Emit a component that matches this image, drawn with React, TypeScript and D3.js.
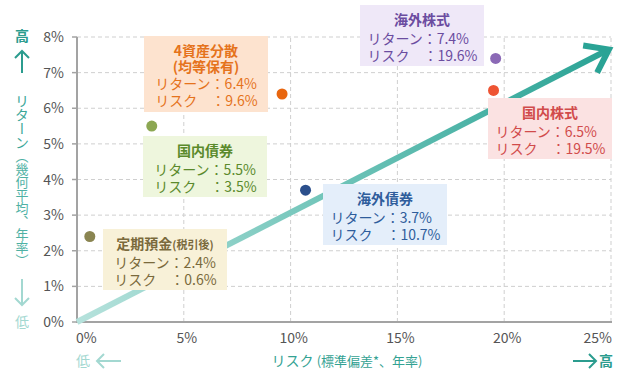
import React from 'react';
import * as d3 from 'd3';

// ---- data ----
const names = ['定期預金', '国内債券', '4資産分散', '海外債券', '国内株式', '海外株式'];
const titleSuffix = ['(税引後)', '', '', '', '', ''];
const titleLine2 = ['', '', '(均等保有)', '', '', ''];
const risks = [0.6, 3.5, 9.6, 10.7, 19.5, 19.6];
const returns = [2.4, 5.5, 6.4, 3.7, 6.5, 7.4];
const xTicks = [0, 5, 10, 15, 20, 25];
const yTicks = [0, 1, 2, 3, 4, 5, 6, 7, 8];
const trendFrom = [0, 0];
const trendTo = [24.9, 7.65];

// ---- styles / layout ----
const dotColors = ['#8a8551', '#8ca752', '#e8660f', '#2b4f8c', '#ee5433', '#8b69b6'];
const boxFills = ['#f8f1d8', '#eef6dd', '#fde3cf', '#e4eefa', '#fbe2e2', '#efe8f8'];
const textColors = ['#7a6a3c', '#5b8a2c', '#e5731c', '#2f5d9c', '#d14b4b', '#6b4ca0'];
const boxLeft = [103, 143, 144, 323, 488, 360];
const boxTop = [229, 136, 36, 184, 98, 5];
const BOX_W = 124;

const W = 633;
const H = 377;
const FONT = '"Noto Sans CJK JP", "Noto Sans", sans-serif';

function estWidth(s: string, fs: number) {
  let w = 0;
  for (const c of s) {
    if (c === '.') w += 0.27 * fs;
    else if (c === '%') w += 0.85 * fs;
    else if (/[0-9]/.test(c)) w += 0.56 * fs;
    else w += fs;
  }
  return w;
}

export default function App() {
  const x = d3.scaleLinear().domain([0, 25]).range([77, 611]);
  const y = d3.scaleLinear().domain([0, 8]).range([322, 37]);

  const x0 = x(trendFrom[0]), y0 = y(trendFrom[1]);
  const x1 = x(trendTo[0]), y1 = y(trendTo[1]);
  const ang = Math.atan2(y1 - y0, x1 - x0);
  const back = ang + Math.PI;
  const armLen = 26;
  const spread = (36 * Math.PI) / 180;
  const a1 = [x1 + armLen * Math.cos(back - spread), y1 + armLen * Math.sin(back - spread)];
  const a2 = [x1 + armLen * Math.cos(back + spread), y1 + armLen * Math.sin(back + spread)];
  const lineEnd = [x1 - 4 * Math.cos(ang), y1 - 4 * Math.sin(ang)];

  const lineGen = d3.line();

  return (
    <svg width={W} height={H} style={{ position: 'absolute', left: 0, top: 0, background: '#fff' }} fontFamily={FONT}>
      <defs>
        <linearGradient id="trendGrad" gradientUnits="userSpaceOnUse" x1={x0} y1={y0} x2={x1} y2={y1}>
          <stop offset="0" stopColor="#b6e2dc" />
          <stop offset="0.45" stopColor="#74c6bb" />
          <stop offset="1" stopColor="#2aa395" />
        </linearGradient>
        <linearGradient id="vGrad" gradientUnits="userSpaceOnUse" x1={0} y1={90} x2={0} y2={280}>
          <stop offset="0" stopColor="#36a395" />
          <stop offset="1" stopColor="#7ccabf" />
        </linearGradient>
      </defs>

      {/* grid */}
      {yTicks.filter((t) => t > 0).map((t) => (
        <line key={'gy' + t} x1={x(0)} x2={x(25)} y1={y(t)} y2={y(t)} stroke="#cfcfcf" strokeWidth={1} strokeDasharray="4 3" />
      ))}
      {xTicks.filter((t) => t > 0).map((t) => (
        <line key={'gx' + t} x1={x(t)} x2={x(t)} y1={y(0)} y2={y(8)} stroke="#cfcfcf" strokeWidth={1} strokeDasharray="4 3" />
      ))}

      {/* axes */}
      <line x1={x(0)} x2={x(0)} y1={y(0)} y2={y(8)} stroke="#a3a3a3" strokeWidth={2} />
      <line x1={x(0) - 1} x2={x(25) + 1} y1={y(0)} y2={y(0)} stroke="#a3a3a3" strokeWidth={2} />
      {yTicks.map((t) => (
        <line key={'ty' + t} x1={x(0) - 5} x2={x(0)} y1={y(t)} y2={y(t)} stroke="#a3a3a3" strokeWidth={1.5} />
      ))}

      {/* tick labels */}
      {yTicks.map((t) => (
        <text key={'ly' + t} x={64} y={y(t) + 5} textAnchor="end" fontSize={14} fill="#555">
          {t + '%'}
        </text>
      ))}
      {xTicks.map((t, i) => (
        <text
          key={'lx' + t}
          x={i === 0 ? x(t) - 1 : i === xTicks.length - 1 ? x(t) + 1 : x(t) + 3}
          y={343}
          textAnchor={i === 0 ? 'start' : i === xTicks.length - 1 ? 'end' : 'middle'}
          fontSize={14}
          fill="#555"
        >
          {t + '%'}
        </text>
      ))}

      {/* trend arrow */}
      <path d={lineGen([[x0, y0], lineEnd as [number, number]]) || ''} stroke="url(#trendGrad)" strokeWidth={6} fill="none" />
      <path
        d={lineGen([a1 as [number, number], [x1, y1], a2 as [number, number]]) || ''}
        stroke="#2aa395"
        strokeWidth={6}
        fill="none"
        strokeLinejoin="miter"
      />

      {/* boxes */}
      {names.map((n, i) => {
        const left = boxLeft[i];
        const top = boxTop[i];
        const hasL2 = titleLine2[i] !== '';
        const h = hasL2 ? 76 : 61;
        const cx = left + BOX_W / 2;
        const rLine = 'リターン：' + returns[i] + '%';
        const kLine = 'リスク\u3000：' + risks[i] + '%';
        const bw = Math.max(estWidth(rLine, 14), estWidth(kLine, 14));
        const sx = left + (BOX_W - bw) / 2;
        const base = top + (hasL2 ? 53 : 38.5);
        return (
          <g key={'box' + i}>
            <rect x={left} y={top} width={BOX_W} height={h} fill={boxFills[i]} />
            <text x={cx} y={top + 20} textAnchor="middle" fontSize={14} fontWeight="bold" fill={textColors[i]}>
              {n}
              {titleSuffix[i] && <tspan fontSize={11}>{titleSuffix[i]}</tspan>}
            </text>
            {hasL2 && (
              <text x={cx} y={top + 36} textAnchor="middle" fontSize={14} fontWeight="bold" fill={textColors[i]}>
                {titleLine2[i]}
              </text>
            )}
            <text x={sx} y={base} fontSize={14} fill={textColors[i]}>
              {rLine}
            </text>
            <text x={sx} y={base + 17} fontSize={14} fill={textColors[i]}>
              {kLine}
            </text>
          </g>
        );
      })}

      {/* dots */}
      {names.map((n, i) => (
        <circle key={'d' + i} cx={x(risks[i])} cy={y(returns[i])} r={5.5} fill={dotColors[i]} />
      ))}

      {/* left axis title */}
      <text x={22} y={41} textAnchor="middle" fontSize={14} fontWeight="bold" fill="#2b9c8e">高</text>
      <line x1={22} x2={22} y1={51} y2={73} stroke="#2b9c8e" strokeWidth={2} />
      <path d="M15,58 L22,51 L29,58" stroke="#2b9c8e" strokeWidth={2} fill="none" />
      <text x={22} y={94} fontSize={14} fill="url(#vGrad)" style={{ writingMode: 'vertical-rl' } as any}>
        リターン<tspan fontSize={13}>（幾何平均、年率）</tspan>
      </text>
      <line x1={22} x2={22} y1={279} y2={305} stroke="#a3d8d1" strokeWidth={2} />
      <path d="M15,298 L22,305 L29,298" stroke="#a3d8d1" strokeWidth={2} fill="none" />
      <text x={22} y={327} textAnchor="middle" fontSize={14} fill="#a3d8d1">低</text>

      {/* bottom axis title */}
      <text x={76} y={366} fontSize={14} fill="#a3d8d1">低</text>
      <line x1={97} x2={121} y1={361} y2={361} stroke="#a3d8d1" strokeWidth={2} />
      <path d="M104,354 L97,361 L104,368" stroke="#a3d8d1" strokeWidth={2} fill="none" />
      <text x={347} y={366} textAnchor="middle" fontSize={14} fill="#34a293">
        リスク <tspan fontSize={13}>(標準偏差*、年率)</tspan>
      </text>
      <line x1={573} x2={596} y1={361} y2={361} stroke="#2b9c8e" strokeWidth={2} />
      <path d="M589,354 L596,361 L589,368" stroke="#2b9c8e" strokeWidth={2} fill="none" />
      <text x={599} y={366} fontSize={14} fontWeight="bold" fill="#2b9c8e">高</text>
    </svg>
  );
}
